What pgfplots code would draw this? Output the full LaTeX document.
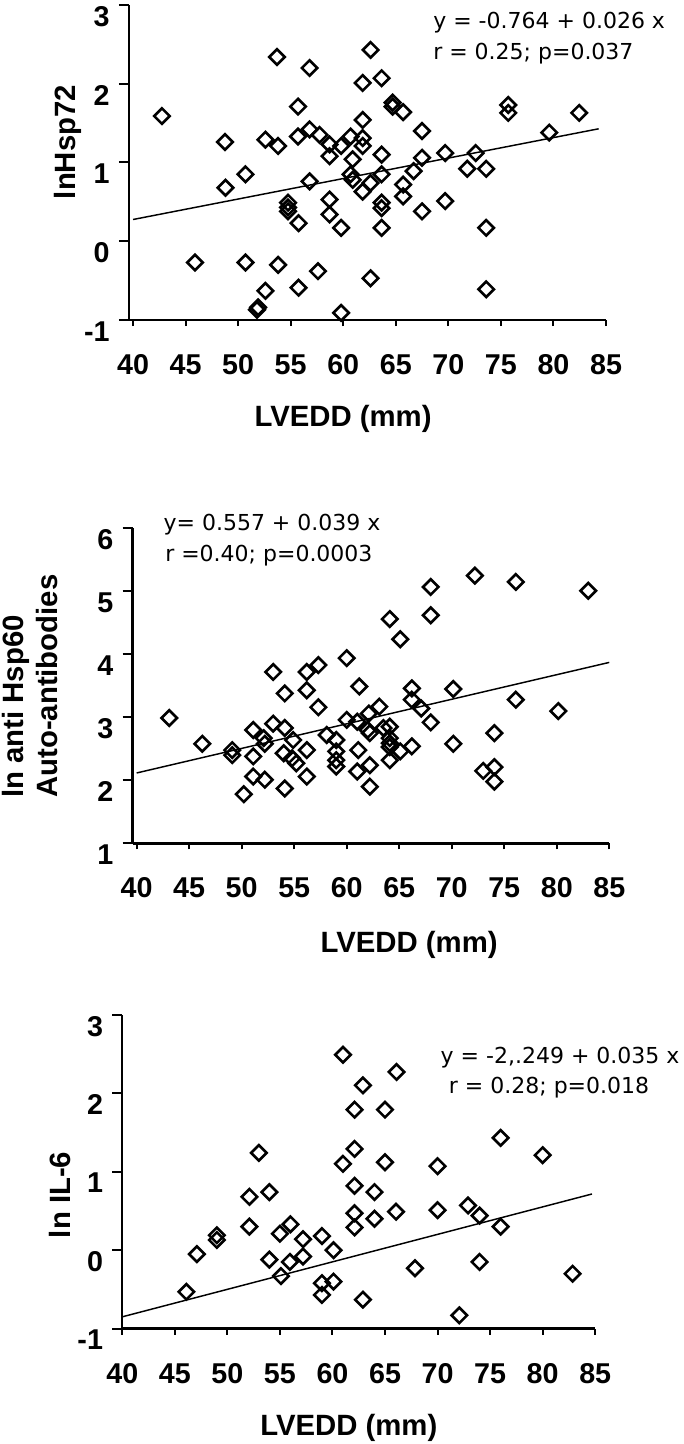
\documentclass[border=0pt]{standalone}
\usepackage{pgfplots}
\pgfplotsset{compat=1.18}
\usepackage{fontspec}
\setmainfont{Liberation Sans}
\newfontfamily\annfont{DejaVu Sans}
\newcommand\labfont{\fontsize{22}{25.5}\selectfont\bfseries}
\newcommand\tickfont{\fontsize{21.5}{25}\selectfont\bfseries}
\newcommand\anntext{\annfont\fontsize{16.5}{19}\selectfont}

\pgfplotstableread{
x y
42.75 1.59
45.9 -0.27
48.75 1.26
48.8 0.68
50.7 0.85
50.7 -0.27
51.8 -0.87
51.9 -0.84
52.6 1.29
52.6 -0.63
53.7 2.34
53.8 1.21
53.8 -0.30
54.75 0.49
54.75 0.43
54.75 0.38
55.7 1.71
55.7 1.33
55.75 0.23
55.75 -0.59
56.8 2.20
56.8 1.42
56.8 0.76
57.75 1.35
57.6 -0.38
58.7 1.23
58.7 1.08
58.7 0.53
58.7 0.34
59.8 1.21
59.8 0.17
59.8 -0.91
60.7 1.33
60.9 1.04
60.7 0.85
60.9 0.78
61.85 2.01
61.85 1.54
61.85 1.31
61.85 1.21
61.85 0.63
62.6 2.43
62.6 0.74
62.6 -0.47
63.65 2.07
63.65 1.10
63.65 0.85
63.65 0.49
63.65 0.42
63.65 0.17
64.7 1.76
64.7 1.71
65.7 1.64
65.7 0.72
65.7 0.57
66.7 0.89
67.5 1.40
67.5 1.06
67.5 0.38
69.7 1.12
69.7 0.51
71.8 0.92
72.6 1.12
73.6 0.92
73.6 0.17
73.6 -0.61
75.7 1.73
75.7 1.63
79.6 1.38
82.45 1.63
}\dataA

\pgfplotstableread{
x y
43.1 2.99
46.25 2.58
49.1 2.48
49.1 2.40
50.2 1.78
51.1 2.80
51.1 2.38
51.1 2.06
52.1 2.67
52.2 2.58
52.2 2.01
53.0 3.72
53.0 2.90
54.1 3.38
54.1 2.83
54.0 2.43
54.1 1.87
54.9 2.64
54.8 2.35
55.2 2.27
56.2 3.72
56.2 3.43
56.2 2.48
56.2 2.06
57.3 3.83
57.3 3.16
58.1 2.72
59.0 2.64
59.0 2.46
59.0 2.32
59.0 2.22
60.0 3.94
60.0 2.96
61.0 2.93
61.2 3.49
61.1 2.48
61.0 2.14
62.0 2.80
62.1 3.06
62.2 2.75
62.2 2.24
62.2 1.90
63.1 3.17
63.5 2.83
64.1 4.56
65.1 4.24
64.1 2.85
64.1 2.67
64.1 2.59
64.1 2.53
64.1 2.32
65.1 2.46
66.2 3.46
66.2 3.28
66.2 2.54
67.1 3.14
68.0 5.07
68.0 4.62
68.0 2.92
70.15 3.45
70.15 2.58
72.2 5.25
73.0 2.15
74.06 2.75
74.06 2.21
74.06 1.98
76.1 5.15
76.1 3.28
80.15 3.10
83.0 5.01
}\dataB

\pgfplotstableread{
x y
46.1 -0.53
47.1 -0.05
49.0 0.19
49.0 0.13
52.1 0.68
52.1 0.30
53.0 1.24
54.0 0.74
54.0 -0.12
55.0 0.21
55.1 -0.33
56.0 0.33
55.95 -0.15
57.2 0.14
57.2 -0.08
59.0 0.18
59.0 -0.42
59.0 -0.57
60.1 0.0
60.1 -0.40
61.0 2.49
61.0 1.10
62.1 1.79
62.1 1.29
62.1 0.82
62.1 0.47
62.1 0.29
62.9 2.10
62.9 -0.63
64.0 0.74
64.0 0.40
65.0 1.79
65.0 1.12
66.1 2.27
66.05 0.49
67.85 -0.23
70.0 1.07
70.0 0.51
72.07 -0.83
72.9 0.57
74.0 0.44
74.0 -0.15
76.0 1.43
76.0 0.30
80.0 1.21
82.85 -0.30
}\dataC

\pgfplotsset{
  panel/.style={
    scale only axis, anchor=south west,
    axis x line*=bottom, axis y line*=left,
    axis line style={line width=1.8pt, black},
    tick align=outside,
    xtick={40,45,...,85},
    xtick style={line width=1.5pt, black, /pgfplots/major tick length=4.5pt},
    ytick style={line width=1.5pt, black, /pgfplots/major tick length=7.5pt},
    minor tick num=0,
    /pgf/number format/assume math mode=true,
    xticklabel style={font=\tickfont, inner sep=0pt, anchor=north, yshift=-21.5pt},
    yticklabel style={font=\tickfont, inner sep=0pt, anchor=north east, xshift=-10pt, yshift=-0.8pt},
    xlabel style={font=\labfont, inner sep=0pt, anchor=center},
    ylabel style={font=\labfont, inner sep=0pt, anchor=center},
    xlabel={LVEDD (mm)},
    clip=false,
  },
  pts/.style={only marks, mark=square, mark size=4.1pt,
    mark options={rotate=45, line width=1.95pt, black, solid, rounded corners=1.2pt}},
  fit/.style={no marks, black, line width=1.1pt},
}

\begin{document}
\begin{tikzpicture}
\useasboundingbox (0,0) rectangle (512.25pt,-1083pt);

% Panel 1
\begin{axis}[panel,
  at={(96.6pt,-240pt)}, width=357.9pt, height=236.25pt,
  xmin=39.6, xmax=85, ymin=-1, ymax=3, ytick={-1,0,1,2,3},
  extra x ticks={60}, extra x tick labels={},
  extra x tick style={/pgfplots/major tick length=8pt},
  ylabel={lnHsp72},
  ylabel style={at={(axis description cs:-0.1274,0.565)}},
  xlabel style={at={(axis description cs:0.449,-0.314)}},
]
\addplot[pts] table[x=x,y=y] {\dataA};
\addplot[fit] coordinates {(40,0.276) (84.3,1.428)};
\end{axis}

% Panel 2
\begin{axis}[panel,
  at={(99.5pt,-632.5pt)}, width=357.45pt, height=236.25pt,
  xmin=39.62, xmax=85, ymin=1, ymax=6, ytick={1,2,3,4,5,6},
  ylabel={ln anti Hsp60\\Auto-antibodies},
  ylabel style={align=left, at={(axis description cs:-0.2144,0.1438)}, anchor=west},
  xlabel style={at={(axis description cs:0.580,-0.323)}},
]
\addplot[pts] table[x=x,y=y] {\dataB};
\addplot[fit] coordinates {(40,2.117) (85,3.872)};
\end{axis}

% Panel 3
\begin{axis}[panel,
  at={(91.7pt,-996.5pt)}, width=354.7pt, height=235.5pt,
  xmin=40, xmax=85, ymin=-1, ymax=3, ytick={-1,0,1,2,3},
  ylabel={ln IL-6},
  ylabel style={at={(axis description cs:-0.132,0.426)}},
  xlabel style={at={(axis description cs:0.479,-0.316)}},
]
\addplot[pts] table[x=x,y=y] {\dataC};
\addplot[fit] coordinates {(40,-0.849) (84.7,0.716)};
\end{axis}

% regression annotations
\node[anchor=base west, inner sep=0pt] at (324.75pt,-21.2pt) {\anntext y = -0.764 + 0.026 x};
\node[anchor=base west, inner sep=0pt] at (324.75pt,-44.5pt) {\anntext r = 0.25; p=0.037};
\node[anchor=base west, inner sep=0pt] at (122.5pt,-397.5pt) {\anntext y= 0.557 + 0.039 x};
\node[anchor=base west, inner sep=0pt] at (123.75pt,-421.3pt) {\anntext r =0.40; p=0.0003};
\node[anchor=base west, inner sep=0pt] at (330.3pt,-797.5pt) {\anntext y = -2,.249 + 0.035 x};
\node[anchor=base west, inner sep=0pt] at (336.5pt,-820pt) {\anntext r = 0.28; p=0.018};
\end{tikzpicture}
\end{document}
